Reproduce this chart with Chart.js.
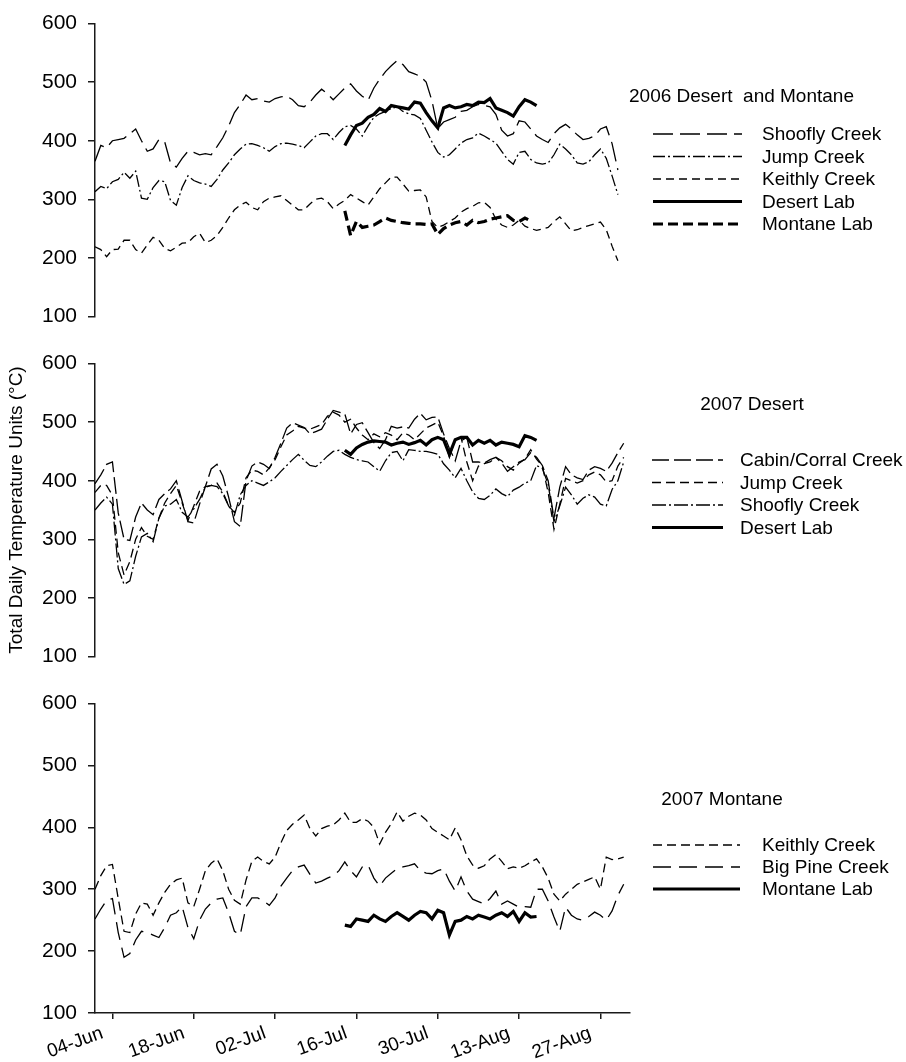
<!DOCTYPE html>
<html><head><meta charset="utf-8">
<script src="https://cdn.jsdelivr.net/npm/chart.js@4.4.1/dist/chart.umd.min.js"></script>
<style>
html,body{margin:0;padding:0;background:#fff;width:906px;height:1062px;overflow:hidden;}
canvas{position:absolute;left:0;}
</style></head><body>
<canvas id="c1" width="906" height="340" style="top:0px"></canvas>
<canvas id="c2" width="906" height="340" style="top:340px"></canvas>
<canvas id="c3" width="906" height="382" style="top:680px"></canvas>
<script>
const FONT = "'Liberation Sans', Arial, Helvetica, sans-serif";
Chart.defaults.font.family = FONT;
Chart.defaults.color = '#000';

// x axis: day number counted from 01-Jun
const tickDays = [3, 17, 31, 45, 59, 73, 87];
const tickLabels = ['04-Jun', '18-Jun', '02-Jul', '16-Jul', '30-Jul', '13-Aug', '27-Aug'];
const labStartDay = 43;   // lab records start 14-Jul

// ---- 2006 Desert and Montane (01-Jun .. 30-Aug)
const shoofly2006 = [365, 392, 388, 400, 402, 404, 412, 420, 400, 382,
  386, 402, 398, 362, 355, 370, 382, 380, 376, 378,
  376, 390, 405, 425, 448, 462, 478, 470, 472, 468,
  466, 472, 475, 476, 470, 460, 458, 466, 478, 488,
  480, 470, 480, 490, 497, 485, 476, 469, 490, 505,
  518, 528, 537, 530, 518, 514, 510, 500, 468, 421,
  432, 436, 440, 450, 452, 458, 462, 460, 458, 445,
  418, 408, 412, 434, 432, 420, 408, 402, 397, 412,
  422, 428, 420, 410, 402, 404, 408, 420, 424, 395,
  350];
const jump2006 = [313, 322, 318, 330, 334, 346, 336, 348, 302, 300,
  320, 332, 330, 298, 290, 320, 340, 332, 328, 326,
  322, 334, 350, 362, 376, 386, 394, 395, 392, 388,
  382, 390, 395, 396, 394, 392, 388, 398, 408, 412,
  412, 402, 414, 424, 426, 420, 408, 425, 440, 446,
  450, 455, 458, 450, 446, 444, 438, 418, 398, 380,
  372, 376, 386, 396, 402, 405, 413, 408, 402, 396,
  382, 368, 360, 380, 382, 368, 362, 360, 362, 376,
  394, 386, 376, 362, 360, 364, 376, 386, 370, 340,
  308];
const keithly2006 = [219, 214, 202, 214, 215, 230, 230, 214, 208, 222,
  235, 230, 216, 212, 218, 225, 226, 236, 242, 226,
  230, 238, 252, 268, 282, 290, 295, 286, 282, 296,
  302, 304, 306, 298, 290, 282, 282, 292, 300, 302,
  296, 284, 292, 298, 308, 302, 296, 290, 304, 318,
  328, 338, 338, 326, 314, 315, 316, 304, 262, 252,
  256, 262, 268, 278, 284, 288, 294, 295, 286, 266,
  256, 252, 256, 264, 254, 250, 247, 249, 252, 262,
  270, 258, 246, 248, 252, 255, 258, 261, 248, 220,
  195];
const desertLab2006 = [392, 410, 426, 430, 440, 445, 455, 450, 460, 458,
  456, 454, 466, 464, 448, 434, 422, 456, 460, 456,
  458, 462, 460, 466, 465, 472, 456, 452, 448, 442,
  458, 470, 466, 460];
const montaneLab2006 = [280, 238, 262, 252, 254, 256, 262, 268, 264, 262,
  260, 259, 258, 258, 257, 258, 240, 250, 256, 260,
  262, 256, 264, 260, 262, 266, 268, 270, 272, 264,
  262, 268, 263];

// ---- 2007 Desert (01-Jun .. 31-Aug)
const cabinCorral2007 = [395, 410, 428, 432, 345, 300, 298, 338, 362, 350,
  342, 368, 378, 386, 400, 365, 330, 328, 360, 390,
  420, 428, 408, 372, 330, 322, 400, 425, 432, 428,
  421, 440, 464, 490, 499, 495, 491, 480, 484, 488,
  505, 520, 517, 514, 480, 496, 499, 482, 465, 455,
  470, 493, 490, 492, 490, 505, 515, 504, 508, 509,
  480, 455, 434, 468, 474, 432, 432, 430, 436, 440,
  430, 416, 424, 432, 436, 448, 440, 426, 400, 336,
  389, 424, 410, 405, 402, 418, 424, 421, 416, 430,
  448, 464];
const jump2007 = [380, 392, 392, 375, 277, 239, 262, 300, 320, 305,
  300, 336, 362, 378, 392, 362, 332, 357, 382, 390,
  392, 396, 381, 357, 346, 362, 405, 418, 416, 410,
  422, 436, 458, 478, 485, 493, 490, 488, 492, 496,
  510, 517, 512, 500, 505, 490, 478, 470, 480, 475,
  482, 478, 470, 482, 478, 470, 480, 490, 495, 500,
  476, 440, 470, 474, 432, 400, 425, 429, 432, 440,
  434, 424, 418, 430, 437, 453, 437, 425, 380, 317,
  360, 404, 400, 396, 400, 410, 415, 410, 398, 400,
  425, 440];
const shoofly2007 = [350, 362, 372, 360, 250, 223, 229, 271, 304, 310,
  296, 336, 357, 360, 368, 346, 338, 352, 368, 389,
  392, 390, 378, 357, 341, 376, 392, 400, 396, 392,
  398, 405, 416, 426, 436, 445, 435, 426, 424, 432,
  442, 450, 452, 445, 440, 436, 434, 432, 424, 416,
  434, 448, 450, 434, 453, 452, 450, 450, 448, 445,
  429, 418, 405, 421, 400, 381, 370, 368, 375, 386,
  378, 373, 384, 389, 396, 400, 426, 421, 394, 330,
  357, 389, 376, 360, 370, 376, 372, 360, 357, 385,
  400, 432];
const desertLab2007 = [452, 445, 456, 462, 466, 468, 467, 466, 461, 464,
  466, 462, 465, 469, 461, 470, 474, 470, 445, 470,
  474, 474, 461, 469, 464, 469, 461, 466, 464, 462,
  458, 477, 474, 469];

// ---- 2007 Montane (01-Jun .. 31-Aug)
const keithly2007 = [300, 322, 338, 340, 285, 232, 230, 260, 278, 276,
  258, 278, 295, 308, 315, 318, 278, 272, 300, 330,
  342, 349, 330, 300, 282, 276, 315, 345, 352, 345,
  341, 352, 375, 395, 405, 412, 420, 398, 386, 398,
  402, 404, 412, 423, 408, 408, 414, 410, 400, 373,
  392, 406, 425, 410, 418, 423, 420, 412, 398, 392,
  386, 380, 399, 380, 354, 339, 334, 338, 349, 356,
  345, 333, 336, 334, 338, 344, 349, 336, 318, 292,
  281, 292, 300, 308, 312, 316, 320, 300, 352, 348,
  349, 352];
const bigPine2007 = [252, 268, 282, 285, 230, 190, 196, 218, 232, 230,
  226, 222, 238, 258, 262, 272, 238, 220, 250, 268,
  278, 284, 286, 262, 232, 226, 272, 286, 286, 281,
  274, 286, 305, 318, 330, 336, 339, 324, 310, 313,
  318, 322, 330, 344, 330, 320, 336, 339, 318, 305,
  318, 326, 333, 336, 338, 341, 330, 326, 325, 330,
  333, 313, 297, 320, 297, 284, 280, 276, 285, 297,
  276, 281, 276, 271, 272, 271, 300, 300, 281, 255,
  232, 271, 258, 252, 250, 256, 263, 258, 250, 265,
  290, 308];
const montaneLab2007 = [242, 240, 252, 250, 248, 258, 252, 248, 256, 262,
  256, 250, 258, 264, 262, 252, 266, 262, 226, 248,
  250, 256, 252, 258, 255, 252, 258, 262, 256, 264,
  248, 262, 255, 256];

function pts(arr, start) { return arr.map((v, i) => ({x: (start || 0) + i, y: v})); }
function ds(label, arr, start, dash, width) {
  return {label, data: pts(arr, start), borderColor: '#000', borderWidth: width || 1.3,
          borderDash: dash || [], pointRadius: 0, tension: 0, fill: false};
}

const legendPlugin = {
  id: 'panelLegend',
  afterDraw(chart, args, o) {
    const ctx = chart.ctx;
    ctx.save();
    ctx.fillStyle = '#000';
    ctx.font = '19px ' + FONT;
    ctx.textBaseline = 'middle';
    ctx.textAlign = o.titleAlign;
    ctx.fillText(o.title, o.titleX, o.titleY);
    ctx.textAlign = 'left';
    chart.data.datasets.forEach((d, i) => {
      const y = o.rowY + i * o.rowGap;
      ctx.beginPath();
      ctx.setLineDash(d.borderDash || []);
      ctx.lineWidth = d.borderWidth;
      ctx.strokeStyle = d.borderColor;
      ctx.moveTo(o.lineX0, y); ctx.lineTo(o.lineX1, y); ctx.stroke();
      ctx.setLineDash([]);
      ctx.fillText(d.label, o.textX, y + 1);
    });
    ctx.restore();
  }
};

function makeChart(id, datasets, opt) {
  const xScale = {
    type: 'linear', min: 0, max: 92, display: !!opt.showX,
    afterBuildTicks: s => { s.ticks = tickDays.map(v => ({value: v})); },
    afterFit: s => { s.height = opt.xHeight || 0; },
    border: {display: true, color: '#1a1a1a', width: 1.5},
    grid: {display: true, drawOnChartArea: false, drawTicks: true, tickLength: 6, color: '#1a1a1a', lineWidth: 1.5},
    ticks: {autoSkip: false, minRotation: 20, maxRotation: 20, padding: 3, labelOffset: -10,
            font: {size: 19}, color: '#000',
            callback: v => { const k = tickDays.indexOf(v); return k >= 0 ? tickLabels[k] : ''; }}
  };
  const yScale = {
    min: 100, max: 600,
    afterFit: s => { s.width = 95; },
    border: {display: true, color: '#1a1a1a', width: 1.5},
    grid: {display: true, drawOnChartArea: false, drawTicks: true, tickLength: 7, color: '#1a1a1a', lineWidth: 1.5},
    ticks: {stepSize: 100, padding: 11, font: {size: 21}, color: '#000'},
    title: opt.yTitle ? {display: true, text: opt.yTitle, font: {size: 19}, color: '#000', padding: {top: 5, bottom: 0}} : {display: false}
  };
  return new Chart(document.getElementById(id), {
    type: 'line',
    data: {datasets},
    options: {
      responsive: false, animation: false, devicePixelRatio: 1,
      layout: {padding: {top: opt.top, bottom: opt.bottom, left: 0, right: 276.5}},
      plugins: {legend: {display: false}, tooltip: {enabled: false}, panelLegend: opt.legend},
      scales: {x: xScale, y: yScale}
    },
    plugins: [legendPlugin]
  });
}

makeChart('c1', [
  ds('Shoofly Creek', shoofly2006, 0, [20, 7]),
  ds('Jump Creek', jump2006, 0, [12, 3, 2, 3]),
  ds('Keithly Creek', keithly2006, 0, [8, 5]),
  ds('Desert Lab', desertLab2006, labStartDay, [], 3.2),
  ds('Montane Lab', montaneLab2006, labStartDay, [10, 5], 3.2)
], {top: 14, bottom: 16,
    legend: {title: '2006 Desert  and Montane', titleAlign: 'left', titleX: 629, titleY: 97,
             rowY: 134, rowGap: 22.5, lineX0: 653, lineX1: 742, textX: 762}});

makeChart('c2', [
  ds('Cabin/Corral Creek', cabinCorral2007, 0, [17, 5]),
  ds('Jump Creek', jump2007, 0, [9, 5]),
  ds('Shoofly Creek', shoofly2007, 0, [14, 3, 2, 3]),
  ds('Desert Lab', desertLab2007, labStartDay, [], 3.2)
], {top: 15, bottom: 14, yTitle: 'Total Daily Temperature Units (°C)',
    legend: {title: '2007 Desert', titleAlign: 'center', titleX: 752, titleY: 65,
             rowY: 120, rowGap: 22.5, lineX0: 652, lineX1: 723, textX: 740}});

makeChart('c3', [
  ds('Keithly Creek', keithly2007, 0, [9, 5]),
  ds('Big Pine Creek', bigPine2007, 0, [18, 8]),
  ds('Montane Lab', montaneLab2007, labStartDay, [], 3.2)
], {top: 13, bottom: 0, showX: true, xHeight: 49,
    legend: {title: '2007 Montane', titleAlign: 'center', titleX: 722, titleY: 120,
             rowY: 165, rowGap: 22, lineX0: 653, lineX1: 740, textX: 762}});
</script>
</body></html>
